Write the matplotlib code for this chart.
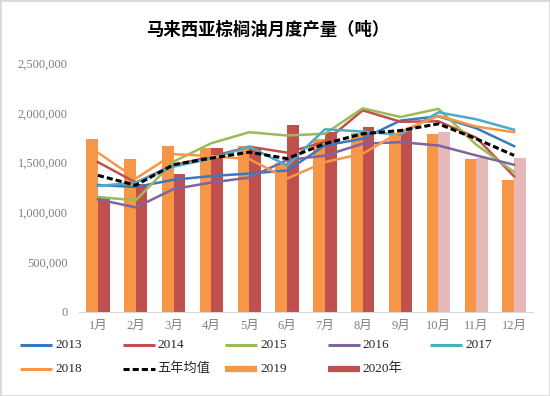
import numpy as np
import matplotlib
matplotlib.use("Agg")
import matplotlib.pyplot as plt
from matplotlib.lines import Line2D
from matplotlib.patches import Rectangle
from matplotlib.ticker import FuncFormatter, MultipleLocator

plt.rcParams['font.family'] = ['Liberation Serif', 'Noto Sans CJK SC']

# ---- data (tonnes) ----
months = ['1月', '2月', '3月', '4月', '5月', '6月', '7月', '8月', '9月', '10月', '11月', '12月']

y2013 = [1275000, 1255000, 1328000, 1365000, 1390000, 1420000, 1672000, 1740000, 1922000, 1965000, 1845000, 1665000]
y2014 = [1505000, 1300000, 1475000, 1560000, 1660000, 1600000, 1710000, 2025000, 1910000, 1915000, 1750000, 1362000]
y2015 = [1155000, 1121000, 1510000, 1695000, 1805000, 1772000, 1790000, 2045000, 1958000, 2040000, 1680000, 1405000]
y2016 = [1131000, 1050000, 1235000, 1300000, 1350000, 1525000, 1570000, 1690000, 1705000, 1672000, 1572000, 1478000]
y2017 = [1265000, 1300000, 1460000, 1540000, 1660000, 1470000, 1835000, 1812000, 1780000, 2005000, 1935000, 1830000]
y2018 = [1600000, 1340000, 1585000, 1565000, 1535000, 1340000, 1505000, 1590000, 1810000, 1970000, 1862000, 1805000]
avg5 = [1372000, 1272000, 1480000, 1545000, 1605000, 1540000, 1690000, 1790000, 1822000, 1889000, 1739000, 1572000]

y2019 = [1732000, 1539000, 1665000, 1645000, 1662000, 1495000, 1739000, 1800000, 1800000, 1789000, 1535000, 1327000]
y2020 = [1148000, 1288000, 1389000, 1645000, 1655000, 1879000, 1805000, 1860000, 1830000, 1810000, 1550000, 1545000]
n_actual_2020 = 9  # months 10-12 are estimates (light bars)

line_series = [
    ('2013', y2013, '#3B78C2'),
    ('2014', y2014, '#C0504D'),
    ('2015', y2015, '#9BBB59'),
    ('2016', y2016, '#8064A2'),
    ('2017', y2017, '#4BACC6'),
    ('2018', y2018, '#F79646'),
]

# ---- figure ----
W, H = 550, 396
fig = plt.figure(figsize=(W / 100, H / 100), dpi=100)
ax = fig.add_axes([79 / W, 1 - 312 / H, 454 / W, 249 / H])

x = np.arange(len(months))
bw = 0.31
ax.bar(x - bw / 2, y2019, width=bw, color='#F79646', zorder=1)
c2020 = ['#C0504D' if i < n_actual_2020 else '#E6B9B8' for i in range(len(months))]
ax.bar(x + bw / 2, y2020, width=bw, color=c2020, zorder=1)

for name, vals, col in line_series:
    ax.plot(x, vals, color=col, lw=1.8, zorder=3)
ax.plot(x, avg5, color='black', lw=2.2, dashes=(2, 1), zorder=4)

ax.set_xlim(-0.5, len(months) - 0.5)
ax.set_ylim(0, 2500000)
ax.yaxis.set_major_locator(MultipleLocator(500000))
ax.yaxis.set_major_formatter(FuncFormatter(lambda v, p: f'{v:,.0f}'))
ax.set_xticks(x)
ax.set_xticklabels(months)
ax.tick_params(axis='both', length=0, labelsize=9, colors='#7F7F7F')
ax.tick_params(axis='y', pad=8)
ax.tick_params(axis='x', pad=6)
for s in ['top', 'right', 'left']:
    ax.spines[s].set_visible(False)
ax.spines['bottom'].set_color('#D9D9D9')

fig.text(0.487, 1 - 30 / H, '马来西亚棕榈油月度产量（吨）', ha='center', va='center',
         fontsize=12.5, fontweight='bold', family=['Noto Sans CJK SC'])

# ---- legend (two rows, five columns) ----
leg_items = [(n, dict(color=c, lw=2.2)) for n, _, c in line_series]
leg_items.insert(6, ('五年均值', dict(color='black', lw=2.2, dashes=(2, 1))))
leg_items.append(('2019', dict(color='#F79646', lw=4.5)))
leg_items.append(('2020年', dict(color='#C0504D', lw=4.5)))

for i, (label, style) in enumerate(leg_items):
    col, row = i % 5, i // 5
    x0 = 20 + 102.5 * col
    yy = 345 + 23.5 * row
    fig.add_artist(Line2D([x0 / W, (x0 + 32) / W], [1 - yy / H, 1 - yy / H],
                          transform=fig.transFigure, solid_capstyle='butt', **style))
    fig.text((x0 + 35) / W, 1 - yy / H, label, ha='left', va='center',
             fontsize=9.5, color='#262626')

fig.patches.append(Rectangle((0, 0), 1, 1, transform=fig.transFigure, fill=False,
                             edgecolor='#D9D9D9', lw=2))

fig.savefig('out.png', dpi=100)
